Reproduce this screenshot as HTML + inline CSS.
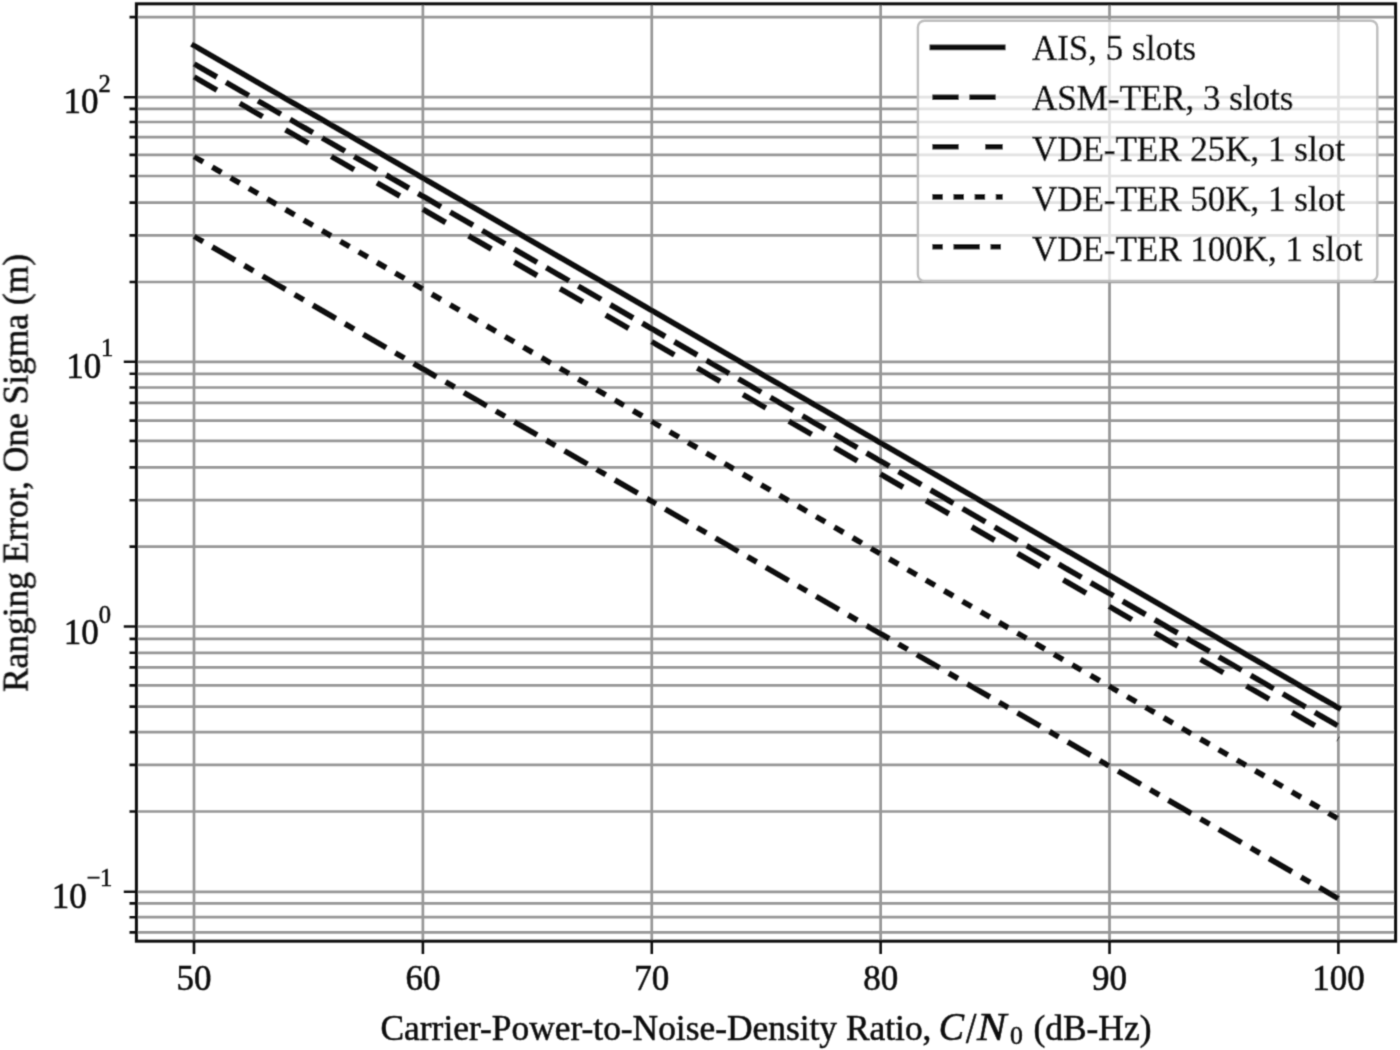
<!DOCTYPE html><html><head><meta charset="utf-8"><style>html,body{margin:0;padding:0;background:#fff;width:1400px;height:1050px;overflow:hidden}svg{display:block;will-change:transform}text{font-family:"Liberation Serif",serif;fill:#111;stroke:#111;stroke-width:0.55px}</style></head><body>
<svg width="1400" height="1050" viewBox="0 0 1400 1050">
<defs><filter id="b" filterUnits="userSpaceOnUse" x="0" y="0" width="1400" height="1050"><feConvolveMatrix order="3" kernelMatrix="1 4 1 4 16 4 1 4 1" divisor="36" edgeMode="none"/></filter></defs>
<rect width="1400" height="1050" fill="#fff"/>
<g filter="url(#b)">
<path d="M194.00 3.80V941.20 M422.88 3.80V941.20 M651.76 3.80V941.20 M880.64 3.80V941.20 M1109.52 3.80V941.20 M1338.40 3.80V941.20 M136.40 17.10H1395.60 M136.40 97.20H1395.60 M136.40 108.90H1395.60 M136.40 122.00H1395.60 M136.40 137.10H1395.60 M136.40 154.90H1395.60 M136.40 176.00H1395.60 M136.40 202.60H1395.60 M136.40 235.40H1395.60 M136.40 282.00H1395.60 M136.40 361.80H1395.60 M136.40 373.80H1395.60 M136.40 387.50H1395.60 M136.40 402.90H1395.60 M136.40 420.60H1395.60 M136.40 440.90H1395.60 M136.40 467.40H1395.60 M136.40 500.20H1395.60 M136.40 546.60H1395.60 M136.40 626.50H1395.60 M136.40 638.90H1395.60 M136.40 652.80H1395.60 M136.40 667.40H1395.60 M136.40 685.40H1395.60 M136.40 706.60H1395.60 M136.40 732.10H1395.60 M136.40 764.90H1395.60 M136.40 811.50H1395.60 M136.40 891.80H1395.60 M136.40 903.40H1395.60 M136.40 917.20H1395.60 M136.40 932.40H1395.60" stroke="#979797" stroke-width="2.7" fill="none"/>
<path d="M194.00 45.60L1338.40 707.86" stroke="#111" stroke-width="5.6" stroke-linecap="square" fill="none"/>
<path d="M194.00 63.80L1338.40 726.06" stroke="#111" stroke-width="5.6" stroke-linecap="butt" fill="none" stroke-dasharray="26.43 10.57"/>
<path d="M194.00 76.90L1338.40 739.16" stroke="#111" stroke-width="5.6" stroke-linecap="butt" fill="none" stroke-dasharray="26.43 26.43"/>
<path d="M194.00 156.60L1338.40 818.86" stroke="#111" stroke-width="5.6" stroke-linecap="butt" fill="none" stroke-dasharray="10.57 10.57"/>
<path d="M194.00 236.40L1338.40 898.66" stroke="#111" stroke-width="5.6" stroke-linecap="butt" fill="none" stroke-dasharray="10.57 10.57 26.43 10.57"/>
<rect x="136.40" y="3.80" width="1259.20" height="937.40" fill="none" stroke="#111" stroke-width="3.0" stroke-linejoin="miter"/>
<path d="M194.00 941.20V954.10 M422.88 941.20V954.10 M651.76 941.20V954.10 M880.64 941.20V954.10 M1109.52 941.20V954.10 M1338.40 941.20V954.10 M129.50 17.10H136.40 M123.80 97.20H136.40 M129.50 108.90H136.40 M129.50 122.00H136.40 M129.50 137.10H136.40 M129.50 154.90H136.40 M129.50 176.00H136.40 M129.50 202.60H136.40 M129.50 235.40H136.40 M129.50 282.00H136.40 M123.80 361.80H136.40 M129.50 373.80H136.40 M129.50 387.50H136.40 M129.50 402.90H136.40 M129.50 420.60H136.40 M129.50 440.90H136.40 M129.50 467.40H136.40 M129.50 500.20H136.40 M129.50 546.60H136.40 M123.80 626.50H136.40 M129.50 638.90H136.40 M129.50 652.80H136.40 M129.50 667.40H136.40 M129.50 685.40H136.40 M129.50 706.60H136.40 M129.50 732.10H136.40 M129.50 764.90H136.40 M129.50 811.50H136.40 M123.80 891.80H136.40 M129.50 903.40H136.40 M129.50 917.20H136.40 M129.50 932.40H136.40" stroke="#111" stroke-width="2.6" fill="none"/>
<text x="194.00" y="989.6" font-size="35" text-anchor="middle">50</text>
<text x="422.88" y="989.6" font-size="35" text-anchor="middle">60</text>
<text x="651.76" y="989.6" font-size="35" text-anchor="middle">70</text>
<text x="880.64" y="989.6" font-size="35" text-anchor="middle">80</text>
<text x="1109.52" y="989.6" font-size="35" text-anchor="middle">90</text>
<text x="1338.40" y="989.6" font-size="35" text-anchor="middle">100</text>
<text x="63.45" y="112.50" font-size="35">10</text>
<text x="98.45" y="91.75" font-size="24.50">2</text>
<text x="66.15" y="378.10" font-size="35">10</text>
<text x="100.90" y="355.70" font-size="24.50">1</text>
<text x="63.65" y="643.80" font-size="35">10</text>
<text x="98.75" y="622.70" font-size="24.50">0</text>
<text x="51.75" y="908.10" font-size="35">10</text>
<text x="86.70" y="886.35" font-size="24.50">−</text>
<text x="100.05" y="886.35" font-size="24.50">1</text>
<text transform="translate(27.6 691.9) rotate(-90)" font-size="35.4">Ranging Error, One Sigma (m)</text>
<text x="380.5" y="1039.6" font-size="35.4">Carrier-Power-to-Noise-Density Ratio,</text>
<text transform="translate(938.84 1040.06) scale(1.0826 1.1447)" font-size="35" font-style="italic">C</text>
<text transform="translate(965.90 1042.92) scale(1.0612 1.2607)" font-size="35">/</text>
<text transform="translate(976.98 1040.00) scale(1.2569 1.1397)" font-size="35" font-style="italic">N</text>
<text transform="translate(1010.06 1044.09) scale(1.0476 1.0364)" font-size="24.5">0</text>
<text x="1033.5" y="1039.6" font-size="35.4">(dB-Hz)</text>
<rect x="917.9" y="20.8" width="459.40" height="260.20" rx="6.5" fill="#fff" fill-opacity="0.72" stroke="#bdbdbd" stroke-width="2.4"/>
<path d="M932.3 47.4H1002.8" stroke="#111" stroke-width="5.6" stroke-linecap="square" fill="none"/>
<text x="1031.9" y="60.00" font-size="35">AIS, 5 slots</text>
<path d="M932.3 97.2H1002.8" stroke="#111" stroke-width="5.6" stroke-linecap="butt" fill="none" stroke-dasharray="26.43 10.57"/>
<text x="1031.9" y="109.80" font-size="35">ASM-TER, 3 slots</text>
<path d="M932.3 146.8H1002.8" stroke="#111" stroke-width="5.6" stroke-linecap="butt" fill="none" stroke-dasharray="26.43 26.43"/>
<text x="1031.9" y="160.80" font-size="35">VDE-TER 25K, 1 slot</text>
<path d="M932.3 196.9H1002.8" stroke="#111" stroke-width="5.6" stroke-linecap="butt" fill="none" stroke-dasharray="10.57 10.57"/>
<text x="1031.9" y="210.70" font-size="35">VDE-TER 50K, 1 slot</text>
<path d="M932.3 246.8H1002.8" stroke="#111" stroke-width="5.6" stroke-linecap="butt" fill="none" stroke-dasharray="10.57 10.57 26.43 10.57"/>
<text x="1031.9" y="260.60" font-size="35">VDE-TER 100K, 1 slot</text>
</g></svg></body></html>
